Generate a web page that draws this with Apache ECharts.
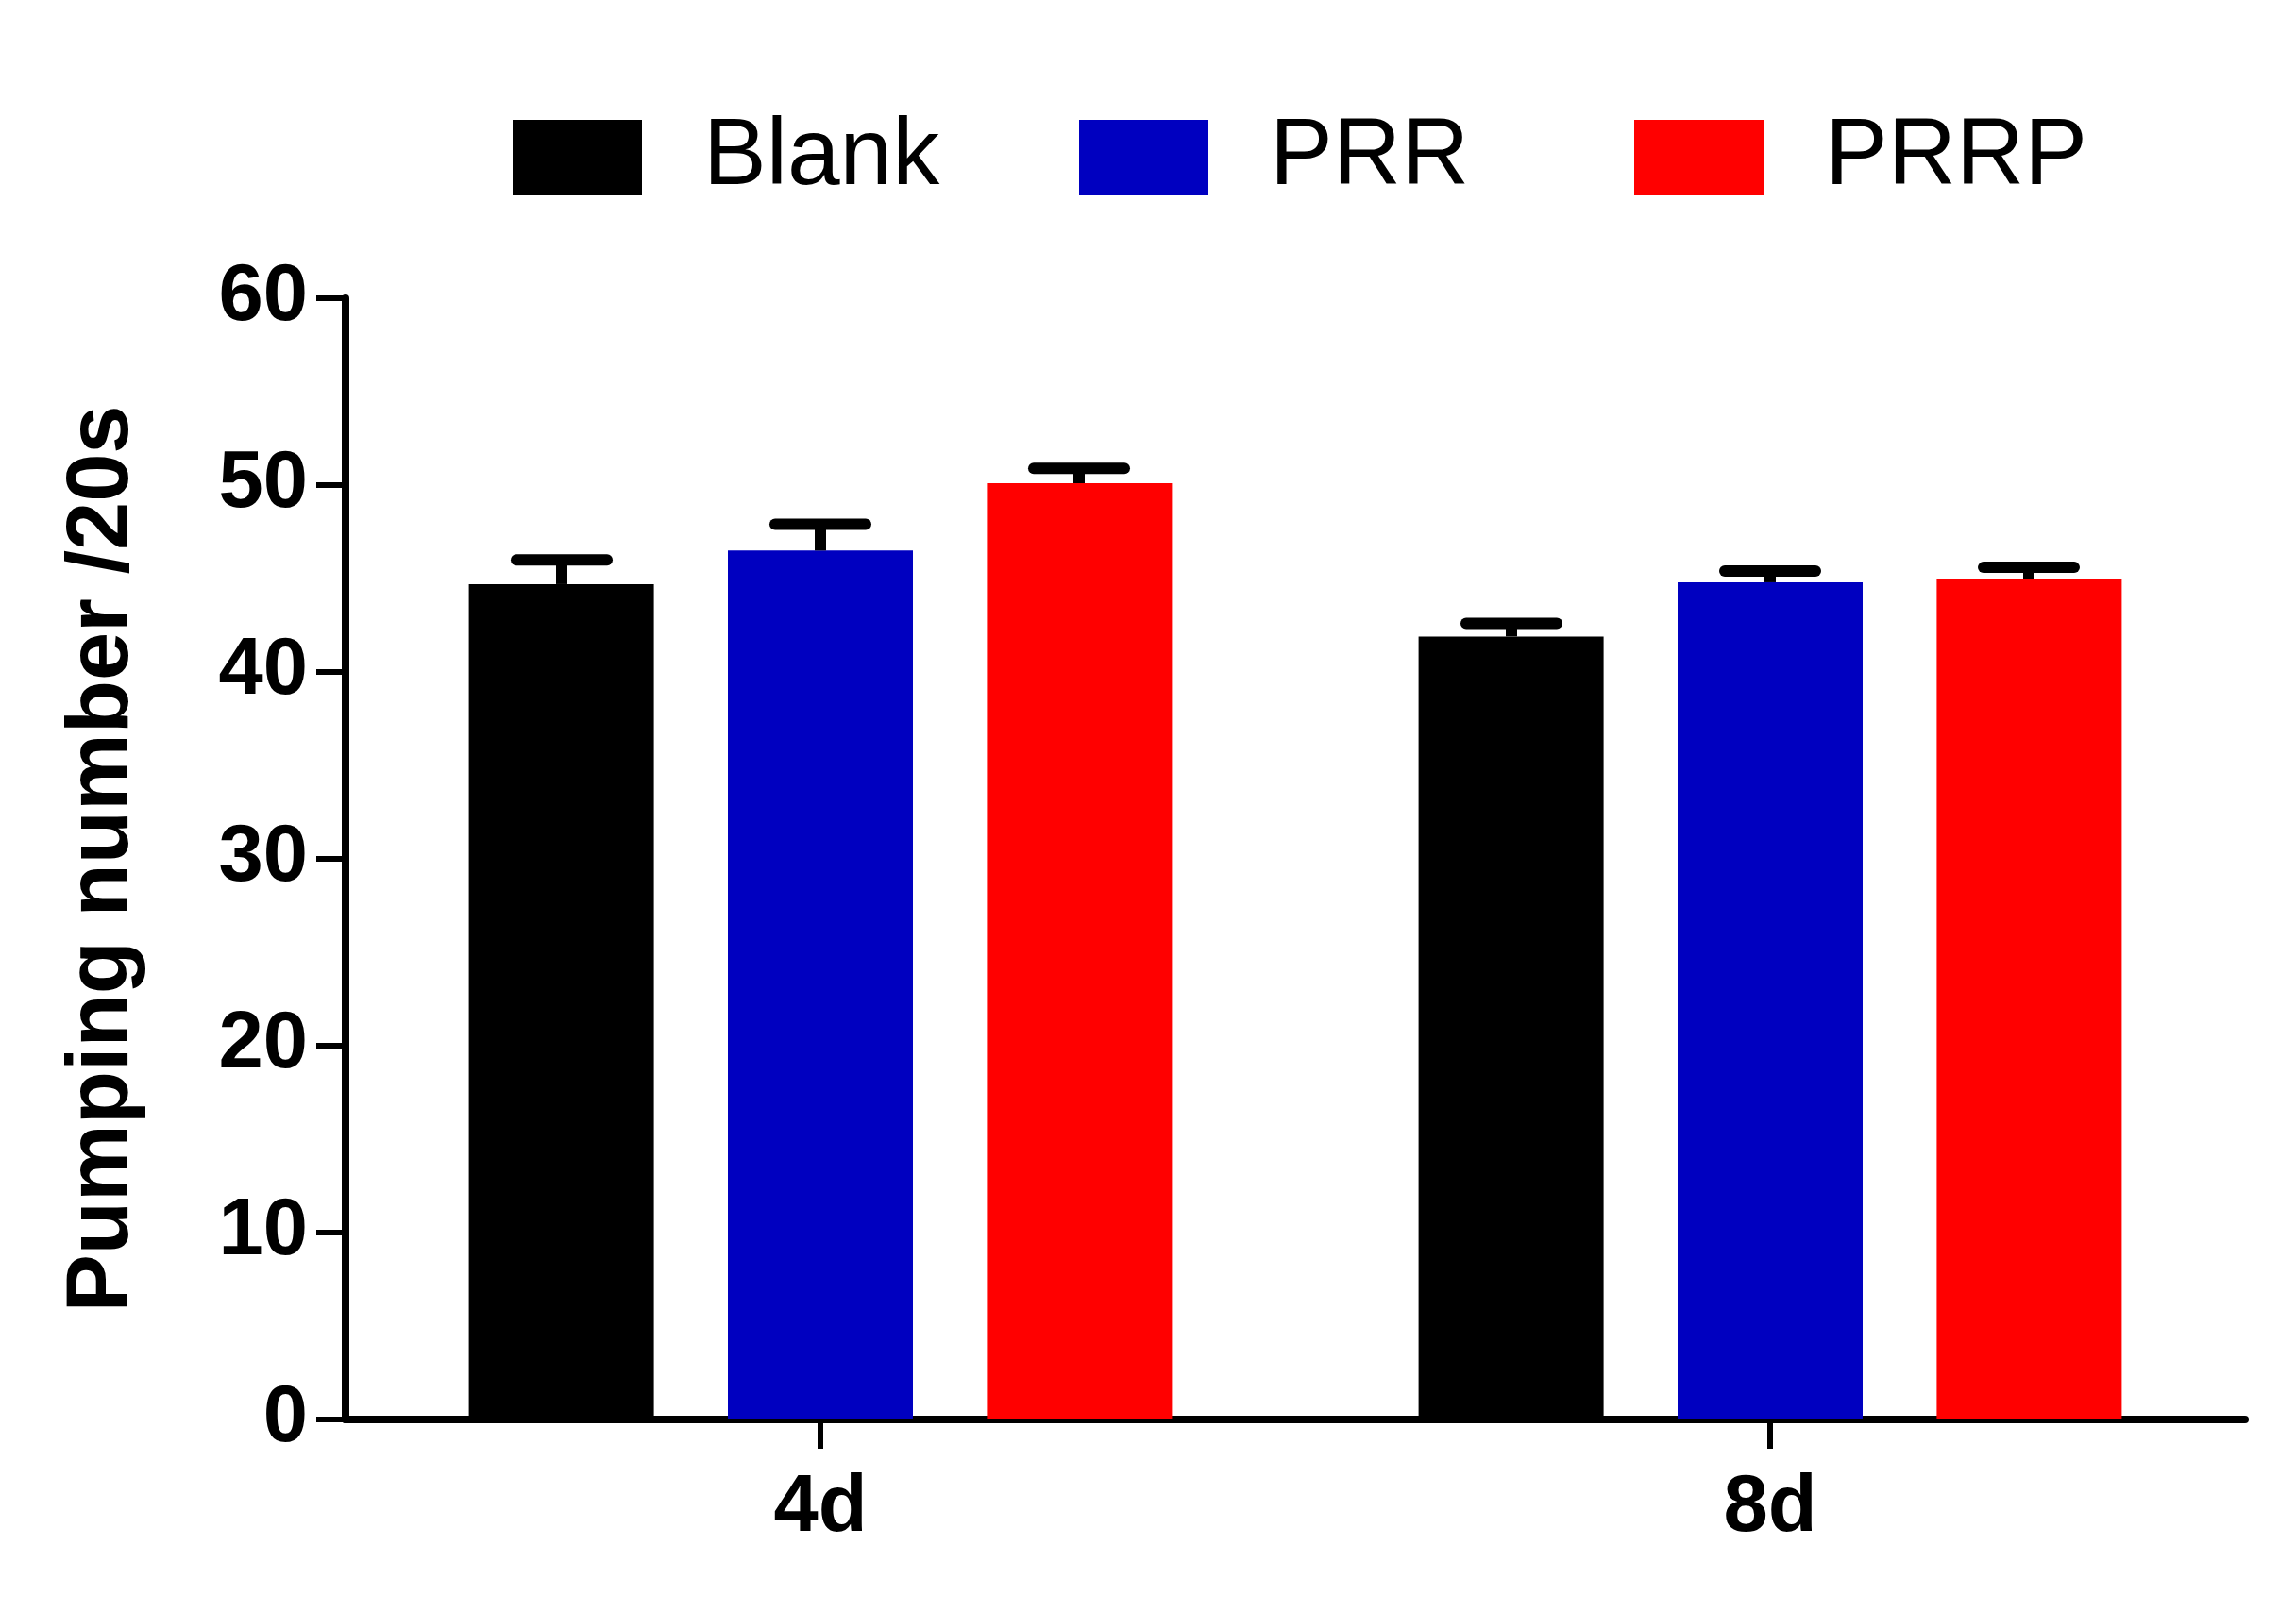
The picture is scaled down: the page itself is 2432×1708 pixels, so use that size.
<!DOCTYPE html>
<html>
<head>
<meta charset="utf-8">
<script src="https://cdn.jsdelivr.net/npm/echarts@6/dist/echarts.min.js"></script>
<style>html,body{margin:0;padding:0;background:#fff}#main{width:2432px;height:1708px}</style>
</head>
<body>
<div id="main"></div>
<script>
var categories = ['4d', '8d'];
var seriesNames = ['Blank', 'PRR', 'PRRP'];
var blankValues = [44.7, 41.9];
var prrValues = [46.5, 44.8];
var prrpValues = [50.1, 45.0];
var blankErr = [1.3, 0.7];
var prrErr = [1.4, 0.6];
var prrpErr = [0.8, 0.6];
var yTicks = [0, 10, 20, 30, 40, 50, 60];

var colors = ['#000000', '#0000C0', '#FF0000'];
var values = [blankValues, prrValues, prrpValues];
var errs = [blankErr, prrErr, prrpErr];
var offsets = [-274, 0, 274];

var chart = echarts.init(document.getElementById('main'));
var series = [];
for (var i = 0; i < 3; i++) {
    series.push({
        name: seriesNames[i],
        type: 'bar',
        data: values[i],
        barWidth: 196,
        barGap: '40%',
        itemStyle: {color: colors[i]},
        z: 2
    });
}
for (var j = 0; j < 3; j++) {
    (function (k) {
        series.push({
            type: 'custom',
            z: 3,
            data: values[k].map(function (v, idx) { return [idx, v, v + errs[k][idx]]; }),
            renderItem: function (params, api) {
                var low = api.coord([api.value(0), api.value(1)]);
                var high = api.coord([api.value(0), api.value(2)]);
                var x = low[0] + offsets[k];
                var style = {stroke: '#000', lineWidth: 12, lineCap: 'round'};
                return {
                    type: 'group',
                    children: [
                        {type: 'line', shape: {x1: x, y1: low[1], x2: x, y2: high[1]}, style: {stroke: '#000', lineWidth: 12}},
                        {type: 'line', shape: {x1: x - 48, y1: high[1], x2: x + 48, y2: high[1]}, style: style}
                    ]
                };
            }
        });
    })(j);
}

var legendPos = [538, 1138, 1726];
var legends = seriesNames.map(function (n, i) {
    return {
        data: [n],
        left: legendPos[i],
        top: 112,
        itemWidth: 137,
        itemHeight: 80,
        itemGap: 0,
        textStyle: {fontSize: 100, fontFamily: 'Liberation Sans', color: '#000', padding: [0, 0, 0, 60]},
        icon: 'rect'
    };
});

chart.setOption({
    animation: false,
    legend: legends,
    grid: {left: 366, right: 54, top: 316, bottom: 204},
    xAxis: {
        type: 'category',
        data: categories,
        axisLine: {lineStyle: {color: '#000', width: 8}},
        axisTick: {show: true, alignWithLabel: true, length: 31, lineStyle: {width: 6, color: '#000'}},
        axisLabel: {fontSize: 85, fontWeight: 'bold', fontFamily: 'Liberation Sans', color: '#000', margin: 52}
    },
    yAxis: {
        type: 'value',
        min: yTicks[0],
        max: yTicks[yTicks.length - 1],
        interval: 10,
        name: 'Pumping number /20s',
        nameLocation: 'middle',
        nameGap: 210,
        nameTextStyle: {fontSize: 92, fontWeight: 'bold', fontFamily: 'Liberation Sans', color: '#000'},
        splitLine: {show: false},
        axisLine: {show: true, lineStyle: {color: '#000', width: 8}},
        axisTick: {show: true, length: 31, lineStyle: {width: 6, color: '#000'}},
        axisLabel: {fontSize: 85, fontWeight: 'bold', fontFamily: 'Liberation Sans', color: '#000', margin: 40}
    },
    series: series
});
</script>
</body>
</html>
